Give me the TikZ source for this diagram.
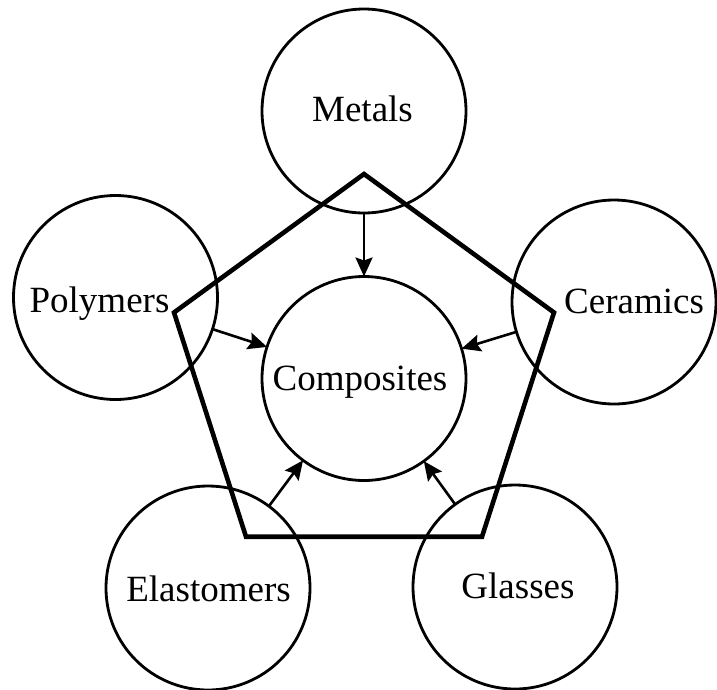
\documentclass[tikz,border=0pt]{standalone}
\usepackage{fontspec}
\setmainfont{Liberation Serif}
\usepackage{tikz}
\usetikzlibrary{arrows.meta}
\tikzset{
  family/.style={draw,circle,line width=2.8pt,minimum size=204pt,inner sep=0pt,outer sep=0pt},
  tag/.style={font=\fontsize{37}{40}\selectfont,inner sep=0pt,text height=23pt,text depth=0pt},
  feed/.style={line width=2.6pt,-{Stealth[length=19pt,width=17pt,inset=3pt]}},
  frame/.style={line width=4.6pt,line join=miter}
}

\begin{document}
\begin{tikzpicture}[x=1pt,y=-1pt]
\useasboundingbox (0,0) rectangle (717,689);
% Material families, composites in the middle
\node[family] (comp) at (364,378.5) {};
\node[family] (met)  at (364,111)   {};
\node[family] (poly) at (115.5,297.5) {};
\node[family] (cer)  at (614,302)   {};
\node[family] (elas) at (208,588)   {};
\node[family] (glas) at (515,587)   {};
% Names, not quite centred in their circles
\node[tag] (comp-t) at ([xshift=-4pt]comp.center) {Composites};
\node[tag] (met-t)  at ([xshift=-1.5pt,yshift=1pt]met.center) {Metals};
\node[tag] (poly-t) at ([xshift=-16pt,yshift=-3.5pt]poly.center) {Polymers};
\node[tag] (cer-t)  at ([xshift=20pt,yshift=0.5pt]cer.center) {Ceramics};
\node[tag] (elas-t) at ([xshift=0.5pt,yshift=-2pt]elas.center) {Elastomers};
\node[tag] (glas-t) at ([xshift=3pt,yshift=0.5pt]glas.center) {Glasses};
% Pentagon round the middle
\draw[frame] (364,174) -- (554,312.5) -- (482,536.7) -- (246,536.7) -- (174,312.5) -- cycle;
% Each family feeds the composites
\foreach \src in {met,poly,cer,elas,glas}
  \draw[feed] (\src) -- (comp);
\end{tikzpicture}
\end{document}
